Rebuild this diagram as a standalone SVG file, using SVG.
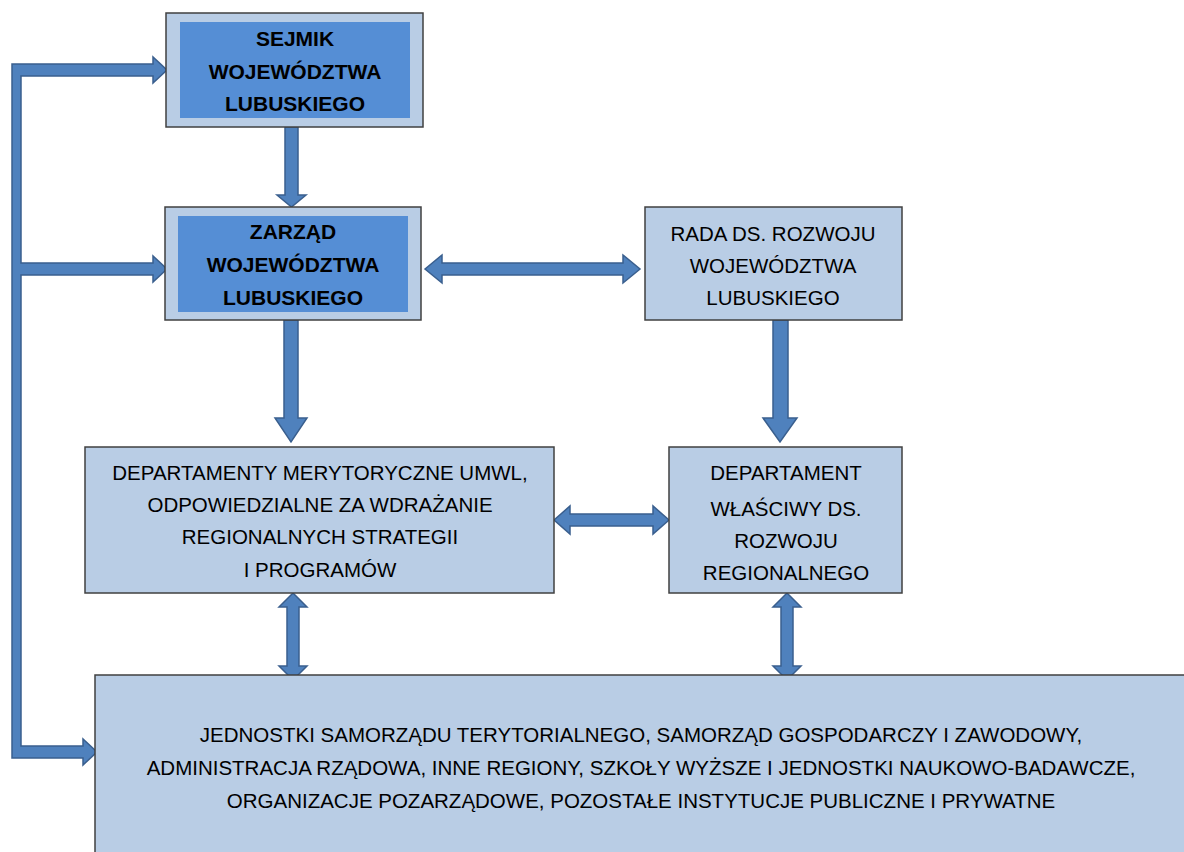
<svg xmlns="http://www.w3.org/2000/svg" width="1184" height="852" viewBox="0 0 1184 852">
<style>
.box{fill:#B9CDE5;stroke:#404040;stroke-width:1.5}
.inner{fill:#558ED5;stroke:none}
.arr{fill:#4F81BD;stroke:#3A5F8E;stroke-width:1.5;stroke-linejoin:miter}
.t{font-family:"Liberation Sans",Arial,sans-serif;font-size:20.5px;fill:#000;text-anchor:middle;dominant-baseline:central}
.b{font-weight:bold;font-size:21px}
</style>
<rect width="1184" height="852" fill="#fff"/>
<g id="connectors">
  <path class="arr" d="M12,64 L153,64 L153,57 L167,70 L153,83 L153,76 L21,76 L21,263 L153,263 L153,256 L167,269 L153,282 L153,275 L21,275 L21,746 L83,746 L83,739 L97,752 L83,765 L83,758 L12,758 Z"/>
  <polygon class="arr" points="285,127 298,127 298,195 306,195 291.5,207 277,195 285,195"/>
  <polygon class="arr" points="425,269 442,255 442,263 623,263 623,255 640,269 623,283 623,275 442,275 442,283"/>
  <polygon class="arr" points="284,320 298,320 298,418 307,418 291,442 275,418 284,418"/>
  <polygon class="arr" points="773,320 788,320 788,418 797,418 780,442 763,418 773,418"/>
  <polygon class="arr" points="554,520 570,506 570,514 653,514 653,506 669,520 653,534 653,526 570,526 570,534"/>
  <polygon class="arr" points="293,593 307,607 299,607 299,666 307,666 293,680 279,666 287,666 287,607 279,607"/>
  <polygon class="arr" points="787,593 801,607 793,607 793,666 801,666 787,680 773,666 781,666 781,607 773,607"/>
</g>
<g id="sejmik">
  <rect class="box" x="166" y="13" width="257" height="114"/>
  <rect class="inner" x="180" y="22" width="230" height="96"/>
  <text class="t b" x="295" y="38">SEJMIK</text>
  <text class="t b" x="295" y="71">WOJEWÓDZTWA</text>
  <text class="t b" x="295" y="103">LUBUSKIEGO</text>
</g>
<g id="zarzad">
  <rect class="box" x="165" y="207" width="256" height="113"/>
  <rect class="inner" x="178" y="216" width="230" height="96"/>
  <text class="t b" x="293" y="231">ZARZĄD</text>
  <text class="t b" x="293" y="264">WOJEWÓDZTWA</text>
  <text class="t b" x="293" y="297">LUBUSKIEGO</text>
</g>
<g id="rada">
  <rect class="box" x="645" y="207" width="257" height="113"/>
  <text class="t" x="773" y="233">RADA DS. ROZWOJU</text>
  <text class="t" x="773" y="265">WOJEWÓDZTWA</text>
  <text class="t" x="773" y="297">LUBUSKIEGO</text>
</g>
<g id="departamenty">
  <rect class="box" x="85" y="447" width="469" height="146"/>
  <text class="t" x="320" y="472">DEPARTAMENTY MERYTORYCZNE UMWL,</text>
  <text class="t" x="320" y="504">ODPOWIEDZIALNE ZA WDRAŻANIE</text>
  <text class="t" x="320" y="536">REGIONALNYCH STRATEGII</text>
  <text class="t" x="320" y="569">I PROGRAMÓW</text>
</g>
<g id="departament">
  <rect class="box" x="669" y="447" width="233" height="146"/>
  <text class="t" x="786" y="472">DEPARTAMENT</text>
  <text class="t" x="786" y="508">WŁAŚCIWY DS.</text>
  <text class="t" x="786" y="540">ROZWOJU</text>
  <text class="t" x="786" y="572">REGIONALNEGO</text>
</g>
<g id="jednostki">
  <rect class="box" x="95" y="675" width="1095" height="185"/>
  <text class="t" x="641" y="734">JEDNOSTKI SAMORZĄDU TERYTORIALNEGO, SAMORZĄD GOSPODARCZY I ZAWODOWY,</text>
  <text class="t" x="641" y="767">ADMINISTRACJA RZĄDOWA, INNE REGIONY, SZKOŁY WYŻSZE I JEDNOSTKI NAUKOWO-BADAWCZE,</text>
  <text class="t" x="641" y="800">ORGANIZACJE POZARZĄDOWE, POZOSTAŁE INSTYTUCJE PUBLICZNE I PRYWATNE</text>
</g>
</svg>
